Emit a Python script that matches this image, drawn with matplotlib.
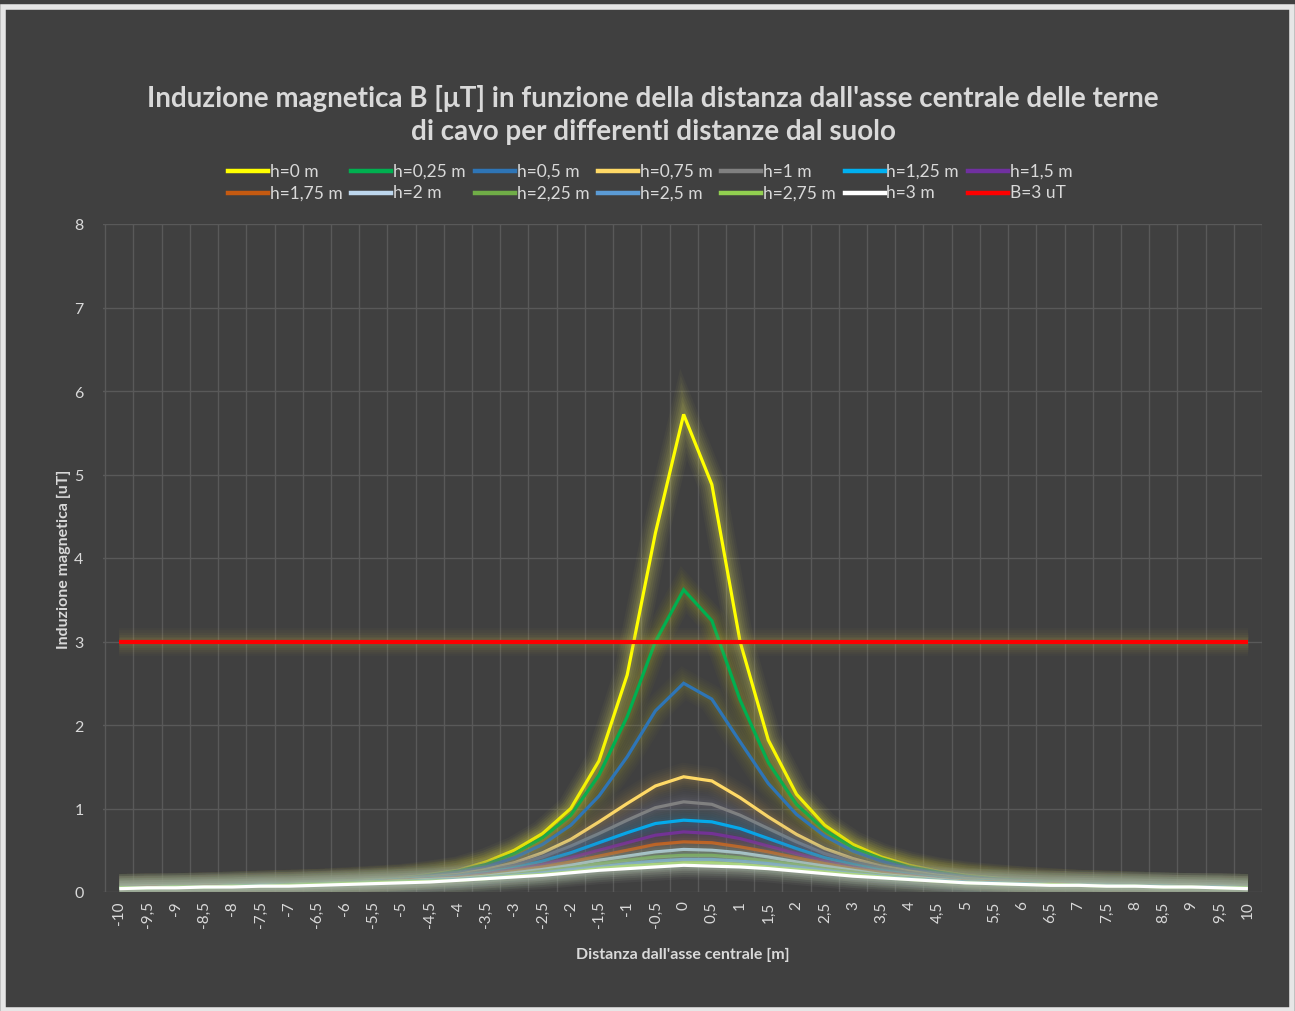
import matplotlib
matplotlib.use("Agg")
import matplotlib.pyplot as plt
import matplotlib.patheffects as pe
from matplotlib.lines import Line2D
import numpy as np

plt.rcParams['font.family'] = ['Lato', 'DejaVu Sans']

distances = [-10, -9.5, -9, -8.5, -8, -7.5, -7, -6.5, -6, -5.5, -5, -4.5, -4, -3.5, -3, -2.5, -2, -1.5, -1, -0.5,
             0, 0.5, 1, 1.5, 2, 2.5, 3, 3.5, 4, 4.5, 5, 5.5, 6, 6.5, 7, 7.5, 8, 8.5, 9, 9.5, 10]
tick_labels = [("%g" % d).replace('.', ',') for d in distances]

labels = ["h=0 m", "h=0,25 m", "h=0,5 m", "h=0,75 m", "h=1 m", "h=1,25 m", "h=1,5 m",
          "h=1,75 m", "h=2 m", "h=2,25 m", "h=2,5 m", "h=2,75 m", "h=3 m", "B=3 uT"]
colors = ["#FFFF00", "#00B050", "#2E75B6", "#FFD966", "#808080", "#00B0F0", "#7030A0",
          "#C55A11", "#BDD7EE", "#70AD47", "#5B9BD5", "#92D050", "#FFFFFF", "#FF0000"]
glow_colors = ["#F0F060", "#C8C020", "#A0A030", "#C0A050", "#8080A0", "#3090C0", "#6050A0",
               "#A06030", "#A0B0C0", "#80A060", "#7090B0", "#90B060", "#D8E0D8", "#C8B848"]

h0 = [0.05, 0.06, 0.06, 0.07, 0.08, 0.09, 0.10, 0.11, 0.13, 0.15, 0.17, 0.21, 0.26, 0.36, 0.50, 0.70, 1.00, 1.57, 2.60, 4.30,
      5.72, 4.88, 3.00, 1.82, 1.17, 0.80, 0.57, 0.42, 0.32, 0.25, 0.20, 0.17, 0.14, 0.12, 0.10, 0.09, 0.08, 0.07, 0.06, 0.06, 0.05]
h025 = [0.05, 0.06, 0.06, 0.07, 0.08, 0.09, 0.10, 0.11, 0.12, 0.14, 0.16, 0.20, 0.25, 0.33, 0.46, 0.65, 0.92, 1.40, 2.10, 3.00,
        3.62, 3.25, 2.30, 1.55, 1.05, 0.74, 0.53, 0.40, 0.30, 0.24, 0.19, 0.16, 0.14, 0.12, 0.10, 0.09, 0.08, 0.07, 0.06, 0.06, 0.05]
h05 = [0.05, 0.06, 0.06, 0.07, 0.08, 0.09, 0.10, 0.11, 0.12, 0.14, 0.16, 0.19, 0.23, 0.30, 0.41, 0.57, 0.80, 1.15, 1.62, 2.17,
       2.50, 2.31, 1.80, 1.30, 0.93, 0.67, 0.49, 0.37, 0.28, 0.22, 0.18, 0.15, 0.13, 0.11, 0.10, 0.09, 0.08, 0.07, 0.06, 0.06, 0.05]
h075 = [0.05, 0.06, 0.06, 0.07, 0.08, 0.09, 0.10, 0.11, 0.12, 0.14, 0.16, 0.18, 0.21, 0.27, 0.35, 0.47, 0.63, 0.84, 1.06, 1.27,
        1.38, 1.33, 1.13, 0.90, 0.69, 0.52, 0.40, 0.31, 0.25, 0.20, 0.16, 0.14, 0.12, 0.11, 0.10, 0.09, 0.08, 0.07, 0.06, 0.06, 0.05]
h1 = [0.05, 0.06, 0.06, 0.07, 0.08, 0.09, 0.10, 0.11, 0.12, 0.13, 0.15, 0.17, 0.20, 0.25, 0.32, 0.42, 0.55, 0.70, 0.86, 1.01,
      1.08, 1.05, 0.92, 0.76, 0.60, 0.46, 0.36, 0.29, 0.23, 0.19, 0.15, 0.13, 0.12, 0.11, 0.10, 0.09, 0.08, 0.07, 0.06, 0.06, 0.05]
h125 = [0.05, 0.06, 0.06, 0.07, 0.08, 0.08, 0.09, 0.10, 0.11, 0.13, 0.15, 0.17, 0.19, 0.23, 0.29, 0.37, 0.47, 0.59, 0.71, 0.82,
        0.86, 0.84, 0.76, 0.64, 0.52, 0.41, 0.33, 0.26, 0.21, 0.17, 0.14, 0.13, 0.11, 0.10, 0.09, 0.08, 0.08, 0.07, 0.06, 0.06, 0.05]
h15 = [0.05, 0.06, 0.06, 0.07, 0.07, 0.08, 0.09, 0.10, 0.11, 0.12, 0.14, 0.16, 0.18, 0.22, 0.27, 0.33, 0.41, 0.50, 0.59, 0.68,
       0.72, 0.70, 0.64, 0.55, 0.46, 0.37, 0.30, 0.24, 0.20, 0.16, 0.13, 0.12, 0.11, 0.10, 0.09, 0.08, 0.07, 0.07, 0.06, 0.06, 0.05]
h175 = [0.05, 0.06, 0.06, 0.07, 0.07, 0.08, 0.09, 0.10, 0.11, 0.12, 0.14, 0.15, 0.17, 0.20, 0.25, 0.30, 0.36, 0.43, 0.50, 0.57,
        0.60, 0.59, 0.54, 0.48, 0.41, 0.34, 0.28, 0.23, 0.19, 0.15, 0.13, 0.12, 0.11, 0.10, 0.09, 0.08, 0.07, 0.07, 0.06, 0.06, 0.05]
h2 = [0.05, 0.05, 0.06, 0.06, 0.07, 0.08, 0.09, 0.10, 0.11, 0.12, 0.13, 0.15, 0.16, 0.19, 0.23, 0.27, 0.32, 0.38, 0.43, 0.48,
      0.51, 0.50, 0.47, 0.42, 0.36, 0.31, 0.26, 0.21, 0.18, 0.15, 0.12, 0.11, 0.10, 0.09, 0.09, 0.08, 0.07, 0.07, 0.06, 0.06, 0.05]
h225 = [0.05, 0.05, 0.06, 0.06, 0.07, 0.08, 0.09, 0.10, 0.11, 0.12, 0.13, 0.14, 0.15, 0.18, 0.21, 0.25, 0.29, 0.34, 0.38, 0.42,
        0.44, 0.44, 0.41, 0.37, 0.33, 0.28, 0.24, 0.20, 0.17, 0.14, 0.12, 0.11, 0.10, 0.09, 0.08, 0.08, 0.07, 0.07, 0.06, 0.06, 0.05]
h25 = [0.05, 0.05, 0.06, 0.06, 0.07, 0.08, 0.08, 0.09, 0.10, 0.11, 0.12, 0.14, 0.15, 0.17, 0.20, 0.23, 0.27, 0.30, 0.34, 0.37,
       0.39, 0.39, 0.37, 0.34, 0.30, 0.26, 0.22, 0.19, 0.16, 0.14, 0.12, 0.11, 0.10, 0.09, 0.08, 0.08, 0.07, 0.07, 0.06, 0.06, 0.05]
h275 = [0.05, 0.05, 0.06, 0.06, 0.07, 0.07, 0.08, 0.09, 0.10, 0.11, 0.12, 0.13, 0.14, 0.16, 0.19, 0.21, 0.24, 0.28, 0.31, 0.33,
        0.35, 0.35, 0.33, 0.30, 0.27, 0.24, 0.21, 0.18, 0.15, 0.13, 0.11, 0.10, 0.09, 0.09, 0.08, 0.07, 0.07, 0.06, 0.06, 0.05, 0.05]
h3 = [0.04, 0.05, 0.05, 0.06, 0.06, 0.07, 0.07, 0.08, 0.09, 0.10, 0.11, 0.12, 0.14, 0.16, 0.18, 0.20, 0.23, 0.26, 0.28, 0.30,
      0.32, 0.31, 0.30, 0.28, 0.25, 0.22, 0.19, 0.17, 0.15, 0.13, 0.11, 0.10, 0.09, 0.08, 0.08, 0.07, 0.07, 0.06, 0.06, 0.05, 0.04]
limit = [3.0] * 41

series = [h0, h025, h05, h075, h1, h125, h15, h175, h2, h225, h25, h275, h3, limit]

BG = "#404040"
TXT = "#D9D9D9"
GRID = "#595959"

fig = plt.figure(figsize=(12.95, 10.12), dpi=100, facecolor=BG)
# light outer frame
fig.add_artist(plt.Rectangle((2.5 / 1295, 1.5 / 1012), 1289 / 1295, 1003 / 1012,
                             transform=fig.transFigure, facecolor="none", edgecolor="#E6E6E6",
                             lw=4, zorder=100))

ax = fig.add_axes([103 / 1295, 1 - 893 / 1012, (1262 - 103) / 1295, (893 - 225) / 1012])
ax.set_facecolor(BG)
x = np.arange(len(distances))

strengths = [1.2, 1.0, 1.0, 1.0, 1.0, 1.0, 1.0, 1.0, 1.0, 1.0, 1.0, 1.0, 1.6, 1.0]
for i, (vals, c, gc) in enumerate(zip(series, colors, glow_colors)):
    s = strengths[i]
    effects = [pe.Stroke(linewidth=w, foreground=gc, alpha=min(1.0, a * s))
               for w, a in [(20, 0.03), (17, 0.035), (14, 0.045), (11, 0.055), (8, 0.06), (5.5, 0.07)]]
    effects.append(pe.Normal())
    lw = 3.0 if i == 13 else 2.3
    ax.plot(x, vals, color=c, lw=lw, solid_joinstyle='miter', solid_capstyle='butt', zorder=3 + i,
            path_effects=effects)

ax.set_xlim(-0.58, 40.5)
ax.set_ylim(0, 8)
ax.set_yticks(range(0, 9))
ax.set_xticks(x)
ax.set_xticklabels(tick_labels, rotation=90, fontsize=11, color=TXT)
ax.tick_params(axis='x', which='both', length=0, pad=6)
ax.tick_params(axis='y', length=0, labelsize=11.5, labelcolor=TXT, pad=14)
ax.grid(False)
for yv in range(0, 9):
    ax.axhline(yv, color=GRID, lw=1.0, zorder=1)
for xv in np.arange(-0.5, 41, 1):
    ax.axvline(xv, color=GRID, lw=1.0, zorder=1)
for sp in ax.spines.values():
    sp.set_visible(False)

ax.set_xlabel("Distanza dall'asse centrale [m]", fontsize=11.5, fontweight='bold', color=TXT, labelpad=14)
ax.set_ylabel("Induzione magnetica [uT]", fontsize=11.5, fontweight='bold', color=TXT, labelpad=2)

fig.text(653 / 1295, 1 - 98 / 1012, "Induzione magnetica B [\u03bcT] in funzione della distanza dall'asse centrale delle terne",
         ha='center', va='center', fontsize=20, fontweight='bold', color=TXT)
fig.text(653 / 1295, 1 - 132 / 1012, "di cavo per differenti distanze dal suolo",
         ha='center', va='center', fontsize=20, fontweight='bold', color=TXT)

# legend laid out in Excel's grid of equal columns
for i, (lab, c) in enumerate(zip(labels, colors)):
    col, row = i % 7, i // 7
    x0 = 228 + col * 123.3
    yy = 1 - (172 + row * 21.5) / 1012
    fig.add_artist(Line2D([x0 / 1295, (x0 + 40) / 1295], [yy, yy], color=c, lw=3.2,
                          transform=fig.transFigure))
    fig.text((x0 + 42) / 1295, yy, lab, ha='left', va='center', fontsize=12.5, color=TXT)

fig.savefig("out.png", dpi=100, facecolor=fig.get_facecolor())
